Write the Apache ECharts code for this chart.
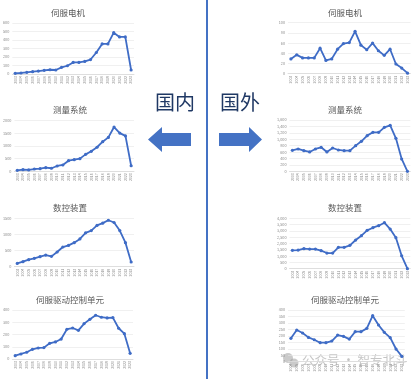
<!DOCTYPE html>
<html><head><meta charset="utf-8">
<script src="https://cdn.jsdelivr.net/npm/echarts@6/dist/echarts.min.js"></script>
<style>html,body{margin:0;padding:0;background:#fff}#c{width:414px;height:379px}</style>
</head><body><div id="c"></div>
<script>
const titles = ['伺服电机','测量系统','数控装置','伺服驱动控制单元'];
const years21 = ['2003','2004','2005','2006','2007','2008','2009','2010','2011','2012','2013','2014','2015','2016','2017','2018','2019','2020','2021','2022','2023'];
const years20 = ['2004','2005','2006','2007','2008','2009','2010','2011','2012','2013','2014','2015','2016','2017','2018','2019','2020','2021','2022','2023'];

const domServo = [8,12,20,27,35,43,50,47,78,97,136,136,148,170,253,354,354,486,436,436,47];
const domMeasure = [40,65,55,90,105,145,120,210,250,420,460,500,670,790,950,1170,1340,1750,1510,1400,220];
const domCNC = [100,155,218,260,310,360,320,455,610,660,745,860,1050,1120,1280,1350,1440,1370,1120,745,145];
const domDrive = [27,41,55,79,90,93,128,139,163,243,253,234,289,324,357,341,335,338,251,207,46];

const forServo = [29,37,31,31,31,50,26,29,48,59,61,83,56,47,60,45,36,48,19,11,1];
const forMeasure = [655,696,644,603,696,748,603,727,665,644,644,800,935,1112,1216,1216,1371,1434,1029,384,0];
const forCNC = [1455,1481,1587,1560,1560,1428,1243,1243,1693,1693,1852,2275,2619,3042,3254,3413,3651,3148,2460,1026,0];
const forDrive = [181,245,222,188,170,147,147,160,206,196,175,232,232,258,356,284,227,186,98,41];

const panels = [
  {data: domServo, cats: years21, max: 600, step: 100, left: 12, top: 23, width: 122, height: 51, title: titles[0], tx: 68, ty: 13, comma:false},
  {data: domMeasure, cats: years21, max: 2000, step: 500, left: 13, top: 120.7, width: 121, height: 50.6, title: titles[1], tx: 70, ty: 110, comma:false},
  {data: domCNC, cats: years21, max: 1500, step: 500, left: 14, top: 218.3, width: 120, height: 48.4, title: titles[2], tx: 70, ty: 208, comma:false},
  {data: domDrive, cats: years21, max: 400, step: 100, left: 12, top: 310, width: 121, height: 49, title: titles[3], tx: 70, ty: 300, comma:false},
  {data: forServo, cats: years21, max: 100, step: 20, left: 288, top: 22.7, width: 122.5, height: 51, title: titles[0], tx: 345, ty: 13, comma:true},
  {data: forMeasure, cats: years21, max: 1600, step: 200, left: 289.5, top: 120, width: 120.8, height: 51.3, title: titles[1], tx: 345, ty: 110, comma:true},
  {data: forCNC, cats: years21, max: 4000, step: 500, left: 289.5, top: 218.3, width: 120.8, height: 50.4, title: titles[2], tx: 345, ty: 208, comma:true},
  {data: forDrive, cats: years20, max: 400, step: 50, left: 288, top: 310, width: 116.8, height: 51.7, title: titles[3], tx: 345, ty: 300, comma:true}
];

const chart = echarts.init(document.getElementById('c'), null, {renderer:'canvas'});
const FONT = '"Noto Sans CJK SC", "Noto Sans", sans-serif';
const grids = [], xAxes = [], yAxes = [], series = [], graphics = [];
panels.forEach((p, i) => {
  grids.push({left: p.left, top: p.top, width: p.width, height: p.height, containLabel: false});
  xAxes.push({type:'category', gridIndex:i, data:p.cats, boundaryGap:true,
    axisLine:{lineStyle:{color:'#d9d9d9', width:0.8}}, axisTick:{show:false},
    axisLabel:{rotate:90, interval:0, fontSize:3.5, color:'#8c8c8c', margin:2, fontFamily:FONT}});
  yAxes.push({type:'value', gridIndex:i, min:0, max:p.max, interval:p.step,
    axisLine:{show:false}, axisTick:{show:false},
    splitLine:{lineStyle:{color:'#e6e6e6', width:0.6}},
    axisLabel:{fontSize:3.8, color:'#8c8c8c', margin:3, fontFamily:FONT,
      formatter: v => p.comma ? v.toLocaleString('en-US') : String(v)}});
  series.push({type:'line', xAxisIndex:i, yAxisIndex:i, data:p.data, symbol:'circle', symbolSize:3.2,
    lineStyle:{color:'#3F6CC6', width:1.8}, itemStyle:{color:'#3F6CC6'}, animation:false, silent:true});
  graphics.push({type:'text', x:p.tx, y:p.ty, style:{text:p.title, fill:'#595959', font:'8.5px ' + FONT, align:'center', verticalAlign:'middle'}});
});

graphics.push({type:'line', shape:{x1:207, y1:0, x2:207, y2:379}, style:{stroke:'#4472C4', lineWidth:2}});
graphics.push({type:'text', x:175, y:102, style:{text:'国内', fill:'#1F3864', font:'20px ' + FONT, align:'center', verticalAlign:'middle'}});
graphics.push({type:'text', x:240, y:102, style:{text:'国外', fill:'#1F3864', font:'20px ' + FONT, align:'center', verticalAlign:'middle'}});
graphics.push({type:'polygon', shape:{points:[[148,139.5],[162,127],[162,133],[191,133],[191,146],[162,146],[162,152]]}, style:{fill:'#4472C4'}});
graphics.push({type:'polygon', shape:{points:[[262,139.5],[249,127],[249,133],[219,133],[219,146],[249,146],[249,152]]}, style:{fill:'#4472C4'}});
graphics.push({type:'circle', shape:{cx:288, cy:358, r:5}, style:{fill:'rgba(150,150,150,0.5)'}});
graphics.push({type:'circle', shape:{cx:294, cy:363, r:4.5}, style:{fill:'rgba(150,150,150,0.5)'}});
graphics.push({type:'text', x:302, y:360, style:{text:'公众号 · 智专北斗', fill:'rgba(150,150,150,0.55)', font:'12.5px ' + FONT, align:'left', verticalAlign:'middle'}});

chart.setOption({animation:false, grid:grids, xAxis:xAxes, yAxis:yAxes, series:series, graphic:graphics});
</script></body></html>
